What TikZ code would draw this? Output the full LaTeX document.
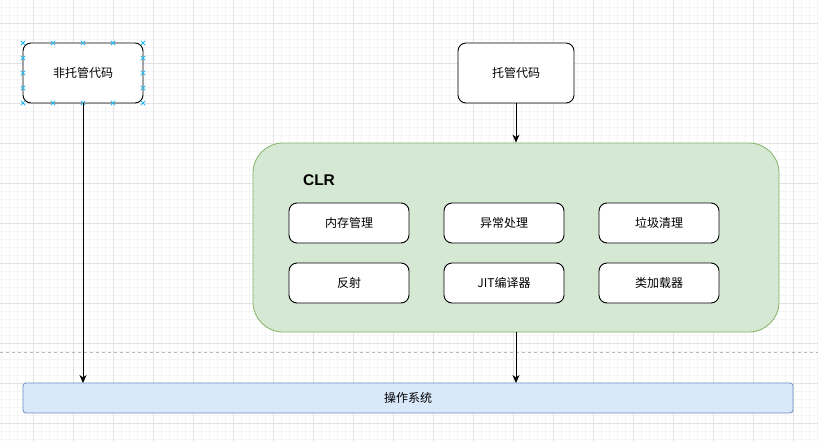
\documentclass[tikz,border=0pt]{standalone}
\usepackage{fontspec}
\setmainfont{Liberation Sans}
\newfontfamily\cjk{Noto Sans CJK SC}
\usetikzlibrary{arrows.meta}
\definecolor{gmajor}{HTML}{E3E3E3}
\definecolor{gminor}{HTML}{F4F4F4}
\definecolor{clrfill}{HTML}{D5E8D4}
\definecolor{clrline}{HTML}{82B366}
\definecolor{osfill}{HTML}{DAE8FC}
\definecolor{osline}{HTML}{6C8EBF}
\definecolor{selblue}{HTML}{29B6F2}
\tikzset{
  box/.style={draw=black, line width=0.9pt, fill=white, rounded corners=8pt, font=\cjk\fontsize{12}{14}\selectfont, inner sep=0pt},
  inbox/.style={box, minimum width=120pt, minimum height=40pt},
  conn/.style={draw=black, line width=0.9pt, -{Stealth[length=8pt,width=7pt,inset=2.5pt]}},
  xmark/.style={selblue, line width=0.8pt},
}
\begin{document}
\begin{tikzpicture}[x=1pt,y=-1pt]
\useasboundingbox (0,0) rectangle (818,442);
\fill[white] (0,0) rectangle (818,442);
% grid
\foreach \x in {1,9,...,817} \draw[gminor, line width=0.5pt] (\x,0) -- (\x,442);
\foreach \y in {7,15,...,441} \draw[gminor, line width=0.5pt] (0,\y) -- (818,\y);
\foreach \x in {33,73,...,813} \draw[gmajor, line width=0.7pt] (\x,0) -- (\x,442);
\foreach \y in {23,63,...,423} \draw[gmajor, line width=0.7pt] (0,\y) -- (818,\y);
% dashed separator
\draw[gray!55, line width=0.6pt, dash pattern=on 3pt off 3pt] (0,352) -- (818,352);

% CLR container
\node[draw=clrline, fill=clrfill, line width=0.8pt, rounded corners=30pt, minimum width=526pt, minimum height=189pt, inner sep=0pt] (clr) at (516,237.5) {};
\node[font=\bfseries\fontsize{15.5}{18}\selectfont] (clrlabel) at (319,180) {CLR};

% top boxes
\node[box, minimum width=120pt, minimum height=60pt] (unmanaged) at (83,73) {非托管代码};
\node[box, minimum width=116pt, minimum height=60pt] (managed) at (516,73) {托管代码};

% inner boxes
\node[inbox] (mem) at (349,223) {内存管理};
\node[inbox] (exc) at (504,223) {异常处理};
\node[inbox] (gc)  at (659,223) {垃圾清理};
\node[inbox] (refl) at (349,283) {反射};
\node[inbox] (jit) at (504,283) {JIT编译器};
\node[inbox] (cl)  at (659,283) {类加载器};

% OS box
\node[draw=osline, fill=osfill, line width=0.8pt, rounded corners=3pt, minimum width=770pt, minimum height=30pt, inner sep=0pt, font=\cjk\fontsize{12}{14}\selectfont] (os) at (408,398) {操作系统};

% selection markers
\foreach \p in {(23,43),(53,43),(83,43),(113,43),(143,43),(23,103),(53,103),(83,103),(113,103),(143,103),(23,58),(23,73),(23,88),(143,58),(143,73),(143,88)} {
  \draw[xmark] \p ++(-2.2,-2.2) -- ++(4.4,4.4);
  \draw[xmark] \p ++(-2.2,2.2) -- ++(4.4,-4.4);
}

% connectors
\coordinate (osin) at (83,383);
\coordinate (osin2) at (516,383);
\draw[conn] (unmanaged.south) -- (osin);
\draw[conn] (managed.south) -- (clr.north);
\draw[conn] (clr.south) -- (osin2);
\end{tikzpicture}
\end{document}
